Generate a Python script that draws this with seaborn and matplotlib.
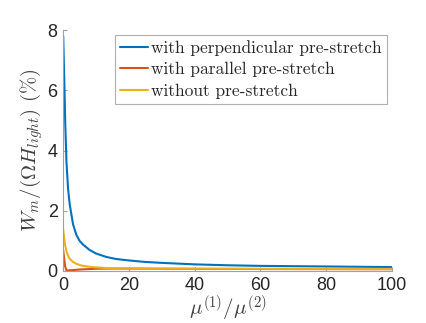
import numpy as np
import pandas as pd
import matplotlib
matplotlib.use("Agg")
import matplotlib.pyplot as plt
import seaborn as sns

ratio = [0, 0.3, 0.6, 1, 1.5, 2, 3, 4, 5, 6, 8, 10, 13, 16, 20, 25, 30, 40, 50, 60, 70, 80, 90, 100]
perpendicular = [7.8, 6.5, 5.0, 3.6, 2.7, 2.2, 1.55, 1.2, 1.0, 0.88, 0.7, 0.58, 0.47, 0.4, 0.35, 0.3,
                 0.27, 0.22, 0.19, 0.17, 0.16, 0.15, 0.14, 0.13]
parallel = [0.69, 0.4, 0.15, 0.02, 0.02, 0.025, 0.03, 0.04, 0.05, 0.055, 0.065, 0.075, 0.08, 0.08,
            0.08, 0.078, 0.075, 0.07, 0.068, 0.066, 0.064, 0.062, 0.06, 0.06]
without = [1.38, 1.1, 0.85, 0.65, 0.5, 0.4, 0.3, 0.24, 0.2, 0.17, 0.14, 0.12, 0.1, 0.09, 0.085, 0.082,
           0.08, 0.078, 0.076, 0.074, 0.072, 0.071, 0.07, 0.07]
labels = ["with perpendicular pre-stretch", "with parallel pre-stretch", "without pre-stretch"]
colors = ["#0072BD", "#D95319", "#EDB120"]
xticks = [0, 20, 40, 60, 80, 100]
yticks = [0, 2, 4, 6, 8]

df = pd.concat([
    pd.DataFrame({"x": ratio, "y": vals, "case": lab})
    for vals, lab in zip([perpendicular, parallel, without], labels)
])

sns.set_style("white")
plt.rcParams["font.family"] = ["Liberation Sans", "DejaVu Sans"]
plt.rcParams["mathtext.fontset"] = "cm"

fig = plt.figure(figsize=(4.27, 3.23), dpi=100)
ax = fig.add_axes([0.148, 0.161, 0.77, 0.746])
sns.lineplot(data=df, x="x", y="y", hue="case", palette=colors, hue_order=labels,
             linewidth=1.5, ax=ax, legend=True)

ax.set_xlim(0, 100)
ax.set_ylim(0, 8)
ax.set_xticks(xticks)
ax.set_yticks(yticks)
ax.tick_params(bottom=True, left=True, direction="in", length=3, width=0.8, color="#a0a0a0",
               labelsize=13, labelcolor="#262626", pad=4)
for s in ["top", "right"]:
    ax.spines[s].set_visible(False)
for s in ["left", "bottom"]:
    ax.spines[s].set_color("#a0a0a0")
    ax.spines[s].set_linewidth(0.8)

ax.set_xlabel(r"$\mu^{(1)}/\mu^{(2)}$", fontsize=15, color="#404040", labelpad=0)
ax.set_ylabel(r"$W_m/(\Omega H_{light})\ (\%)$", fontsize=15, color="#404040", labelpad=2)

leg = ax.legend(loc="upper right", bbox_to_anchor=(0.985, 0.98), frameon=True, fancybox=False,
                edgecolor="#b0b0b0", framealpha=1, handlelength=1.6, handletextpad=0.2,
                borderpad=0.3, labelspacing=0.35, borderaxespad=0,
                prop={"family": "cmr10", "size": 12.5})
leg.get_frame().set_linewidth(0.8)
for t in leg.get_texts():
    t.set_color("#262626")

fig.savefig("out.png", dpi=100, facecolor="white")
